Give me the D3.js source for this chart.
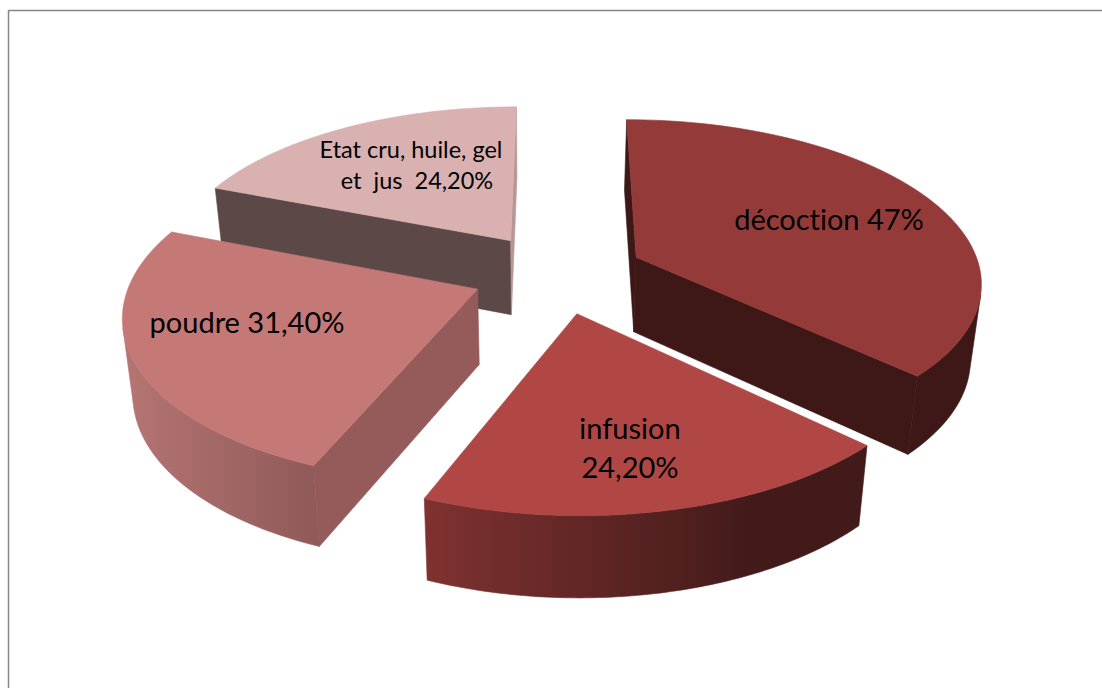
<!DOCTYPE html>
<html lang="fr">
<head>
<meta charset="utf-8">
<title>Modes de préparation</title>
<script src="https://cdnjs.cloudflare.com/ajax/libs/d3/7.8.5/d3.min.js"></script>
<style>
  html, body { margin: 0; padding: 0; background: #fff; }
  svg { display: block; }
  text { font-family: Lato, "Open Sans", sans-serif; fill: #000; white-space: pre; font-variant-ligatures: none; }
</style>
</head>
<body>
<div id="chart"></div>
<script>
// Values of the four preparation modes
const categories = ["décoction", "infusion", "poudre", "Etat cru, huile, gel et jus"];
const shares = [47, 24.2, 31.4, 24.2];
const labelLines = [["décoction 47%"], ["infusion", "24,20%"], ["poudre 31,40%"], ["Etat cru, huile, gel", "et  jus  24,20%"]];

// Face colours per slice
const topColors = ["#943b3a", "#b04745", "#c47977", "#d9b1b1"];
const startWallColors = ["#3d1816", "#401a19", "#945b5a", "#5b4847"];
const endWallColors = ["#3d1816", "#401a19", "#945b5a", "#b99695"];
const rimStops = [
  ["#3d1816", "#3d1816"],
  ["#7f3230", "#421a1a"],
  ["#b57573", "#8f5a59"],
  ["#5b4847", "#5b4847"]
];

// Label placement and type size
const labelAnchors = [[829, 230], [630, 439], [247, 333], [411, 158]];
const labelSizes = [29, 29, 29, 23.5];
const labelLeading = [0, 39, 0, 31];
const lineNudge = [[0], [0, 0], [0], [0, 6]];

// Order in which slices are painted, back to front
const paintOrder = [3, 2, 0, 1];

const width = 1102, height = 688;
const cx = 558, cy = 273;          // projected pie centre
const radiusX = 345, radiusY = 161; // ground-plane scale on screen
const perspective = 0.14;          // foreshortening towards the back
const explode = 0.25;              // slice offset in radius units
const firstAngle = 0;
const depth = 75;                  // extrusion height
const vanishX = 540, floorShrink = 0.975;

const svg = d3.select("#chart").append("svg").attr("width", width).attr("height", height);
const defs = svg.append("defs");

// Frame runs along the top and left only
svg.append("line").attr("x1", 8.5).attr("y1", 10.5).attr("x2", width).attr("y2", 10.5)
  .attr("stroke", "#868686").attr("stroke-width", 1.5);
svg.append("line").attr("x1", 8.5).attr("y1", 10).attr("x2", 8.5).attr("y2", height)
  .attr("stroke", "#868686").attr("stroke-width", 1.5);

const pie = d3.pie().sort(null).startAngle(firstAngle).endAngle(firstAngle + 2 * Math.PI);
const arcs = pie(shares);

// Ground plane to screen, top face
function project(u, v) {
  const w = 1 + perspective * v;
  return [cx + radiusX * u / w, cy - radiusY * v / w];
}
// Same point on the bottom face
function drop(p) {
  return [vanishX + (p[0] - vanishX) * floorShrink, p[1] + depth + (p[1] - cy) * 0.03];
}
const area = pts => d3.polygonArea(pts);
const pathOf = d3.line().curve(d3.curveLinearClosed);

// Fill plus a hairline of the same paint, so adjoining faces leave no seam
function face(g, pts, paint) {
  g.append("path").attr("d", pathOf(pts))
    .attr("fill", paint).attr("stroke", paint).attr("stroke-width", 0.6)
    .attr("stroke-linejoin", "round");
}

const order = paintOrder.map(i => ({ i, arc: arcs[i] }));

const sliceGroups = svg.selectAll("g.slice").data(order).join("g").attr("class", "slice");

sliceGroups.each(function ({ i, arc }) {
  const g = d3.select(this);
  const mid = (arc.startAngle + arc.endAngle) / 2;
  const ou = explode * Math.sin(mid), ov = explode * Math.cos(mid);
  const apex = project(ou, ov);
  const angles = d3.range(0, 81).map(k => arc.startAngle + (arc.endAngle - arc.startAngle) * k / 80);
  const rim = angles.map(a => project(ou + Math.sin(a), ov + Math.cos(a)));
  const rimLow = rim.map(drop);
  const apexLow = drop(apex);

  // Radial walls: painted only when they face the viewer
  const startWall = [apex, rim[0], rimLow[0], apexLow];
  const endWall = [rim[80], apex, apexLow, rimLow[80]];
  if (area(startWall) > 0) face(g, startWall, startWallColors[i]);
  if (area(endWall) > 0) face(g, endWall, endWallColors[i]);

  // Outer band: keep the stretch of rim that faces the viewer
  const visible = d3.range(0, 80).filter(k =>
    area([rim[k], rim[k + 1], rimLow[k + 1], rimLow[k]]) > 0);
  if (visible.length) {
    const first = visible[0], last = visible[visible.length - 1] + 1;
    const upper = rim.slice(first, last + 1);
    const lower = rimLow.slice(first, last + 1).reverse();
    const xs = upper.concat(lower).map(p => p[0]);
    const gradId = "rim" + i;
    const grad = defs.append("linearGradient").attr("id", gradId)
      .attr("gradientUnits", "userSpaceOnUse")
      .attr("x1", d3.min(xs)).attr("x2", d3.max(xs)).attr("y1", 0).attr("y2", 0);
    grad.append("stop").attr("offset", 0).attr("stop-color", rimStops[i][0]);
    grad.append("stop").attr("offset", i === 1 ? 0.75 : 1).attr("stop-color", rimStops[i][1]);
    face(g, upper.concat(lower), `url(#${gradId})`);
  }

  // Top face
  face(g, [apex].concat(rim), topColors[i]);
});

// Labels sit above every slice
labelLines.forEach((lines, i) => {
  const t = svg.append("text")
    .attr("text-anchor", "middle")
    .attr("font-size", labelSizes[i]);
  lines.forEach((line, k) => {
    t.append("tspan")
      .attr("x", labelAnchors[i][0] + lineNudge[i][k])
      .attr("y", labelAnchors[i][1] + k * labelLeading[i])
      .text(line);
  });
});
</script>
</body>
</html>
